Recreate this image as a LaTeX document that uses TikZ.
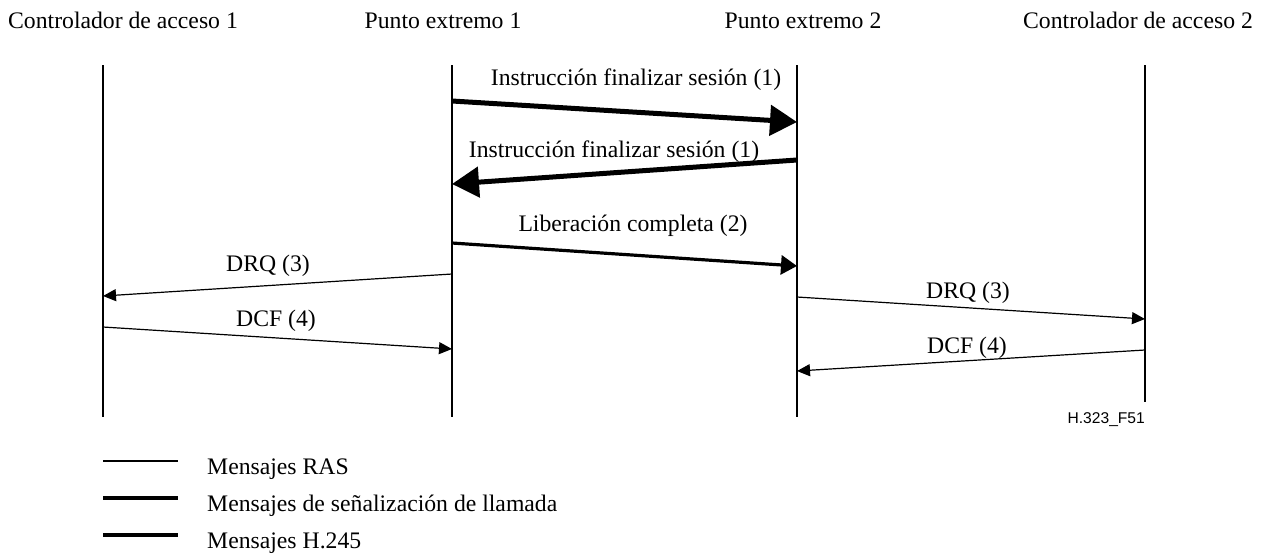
\documentclass[tikz,border=0pt]{standalone}
\usepackage{fontspec}
\setmainfont{Liberation Serif}
\newfontfamily\figsans{Liberation Sans}
\usetikzlibrary{arrows.meta}
\tikzset{
  lifeline/.style={line width=2pt},
  ras/.style={line width=1.2pt,-{Triangle[length=13pt,width=12pt]}},
  calls/.style={line width=3.2pt,-{Triangle[length=16pt,width=19pt]}},
  hmsg/.style={line width=5pt,-{Triangle[length=27pt,width=30pt]}},
  lbl/.style={anchor=base,inner sep=0pt,font=\fontsize{23.7}{28}\selectfont},
  legline/.style={line width=#1},
}
\begin{document}
\begin{tikzpicture}[x=1pt,y=-1pt]
\useasboundingbox (0,0) rectangle (1265,555);
% headers
\node[lbl] (h1) at (123,28) {Controlador de acceso 1};
\node[lbl] (h2) at (443,28) {Punto extremo 1};
\node[lbl] (h3) at (803,28) {Punto extremo 2};
\node[lbl] (h4) at (1138,28) {Controlador de acceso 2};
% lifelines
\coordinate (g1t) at (103,65); \coordinate (g1b) at (103,417);
\coordinate (e1t) at (452,65); \coordinate (e1b) at (452,417);
\coordinate (e2t) at (797,65); \coordinate (e2b) at (797,417);
\coordinate (g2t) at (1145,65); \coordinate (g2b) at (1145,402);
\draw[lifeline] (g1t) -- (g1b);
\draw[lifeline] (e1t) -- (e1b);
\draw[lifeline] (e2t) -- (e2b);
\draw[lifeline] (g2t) -- (g2b);
% message end points
\coordinate (m1a) at (452,101); \coordinate (m1b) at (797,122);
\coordinate (m2a) at (797,160); \coordinate (m2b) at (452,184);
\coordinate (m3a) at (452,243); \coordinate (m3b) at (797,266);
\coordinate (m4a) at (452,274); \coordinate (m4b) at (103,296);
\coordinate (m5a) at (103,327); \coordinate (m5b) at (452,349);
\coordinate (m6a) at (797,297); \coordinate (m6b) at (1145,319);
\coordinate (m7a) at (1145,350); \coordinate (m7b) at (797,371);
\draw[hmsg] (m1a) -- (m1b);
\draw[hmsg] (m2a) -- (m2b);
\draw[calls] (m3a) -- (m3b);
\draw[ras] (m4a) -- (m4b);
\draw[ras] (m5a) -- (m5b);
\draw[ras] (m6a) -- (m6b);
\draw[ras] (m7a) -- (m7b);
% message labels
\node[lbl] (l1) at (636,85) {Instrucción finalizar sesión (1)};
\node[lbl] (l2) at (614,157) {Instrucción finalizar sesión (1)};
\node[lbl] (l3) at (633,231) {Liberación completa (2)};
\node[lbl] (l4) at (268,271) {DRQ (3)};
\node[lbl] (l5) at (276,326) {DCF (4)};
\node[lbl] (l6) at (968,298) {DRQ (3)};
\node[lbl] (l7) at (967,353) {DCF (4)};
\node[anchor=base east,inner sep=0pt,font=\figsans\fontsize{15.6}{18}\selectfont] (fig) at (1145,423) {H.323\_F51};
% legend
\coordinate (k1a) at (103,461); \coordinate (k1b) at (178,461);
\coordinate (k2a) at (103,498); \coordinate (k2b) at (178,498);
\coordinate (k3a) at (103,535); \coordinate (k3b) at (178,535);
\draw[legline=1.3pt] (k1a) -- (k1b);
\draw[legline=3.3pt] (k2a) -- (k2b);
\draw[legline=4.8pt] (k3a) -- (k3b);
\node[lbl,anchor=base west] (t1) at (207,474) {Mensajes RAS};
\node[lbl,anchor=base west] (t2) at (207,511) {Mensajes de señalización de llamada};
\node[lbl,anchor=base west] (t3) at (207,548) {Mensajes H.245};
\end{tikzpicture}
\end{document}
